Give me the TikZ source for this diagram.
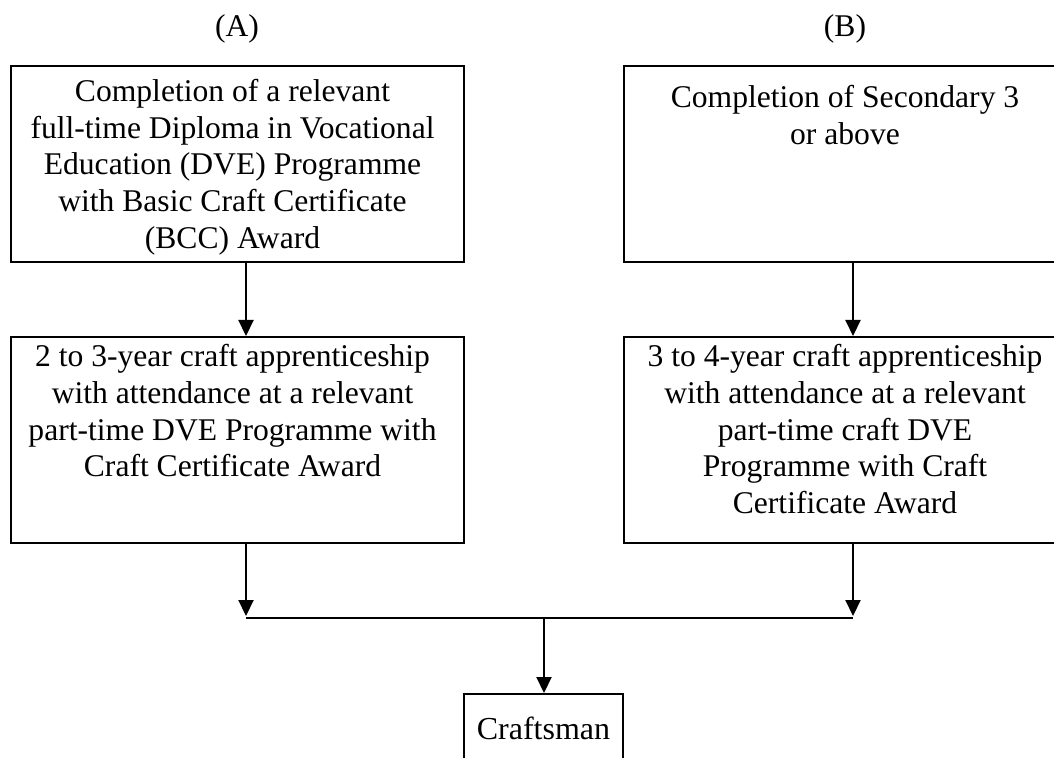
\documentclass[tikz,border=0pt]{standalone}
\usepackage{fontspec}
\setmainfont{Liberation Serif}
\usetikzlibrary{arrows.meta}
% centred lines in a column of width #1, followed by 5pt of room on the right
\newcommand{\boxlines}[2]{\parbox[t]{#1}{\centering #2}\hspace*{5pt}}
\begin{document}
\begin{tikzpicture}[x=0.5pt,y=-0.5pt,
  txt/.style={font=\fontsize{15.8}{18.3}\selectfont},
  flow/.style={txt, draw, line width=1pt, inner sep=0pt, anchor=base},
  heading/.style={txt, anchor=base, inner sep=0pt},
  link/.style={line width=0.65pt, -{Triangle[length=8pt,width=7.6pt]}}]
  \useasboundingbox (0,0) rectangle (1054,758);
  \clip (0,0) rectangle (1054,758);

  % column headings
  \node[heading] (hA) at (237,37) {(A)};
  \node[heading] (hB) at (845,37) {(B)};

  % entry requirements
  \node[flow, text height=17.85pt, text depth=80.15pt] (A1) at (237.5,101.7)
    {\boxlines{221.5pt}{Completion of a relevant\\ full-time Diploma in Vocational\\ Education (DVE) Programme\\ with Basic Craft Certificate\\ (BCC) Award}};
  \node[flow, text height=21pt, text depth=77pt] (B1) at (850,108)
    {\boxlines{221pt}{Completion of Secondary 3\\ or above}};

  % apprenticeships
  \node[flow, text height=15pt, text depth=88pt] (A2) at (237.5,367)
    {\boxlines{221.5pt}{2 to 3-year craft apprenticeship\\ with attendance at a relevant\\ part-time DVE Programme with\\ Craft Certificate Award}};
  \node[flow, text height=15pt, text depth=88pt] (B2) at (850,367)
    {\boxlines{221pt}{3 to 4-year craft apprenticeship\\ with attendance at a relevant\\ part-time craft DVE\\ Programme with Craft\\ Certificate Award}};

  % outcome
  \node[flow, font=\fontsize{16}{18.3}\selectfont, align=center, text width=79.5pt, text height=22.5pt, text depth=11.5pt] (Cr) at (543.5,739)
    {Craftsman};

  % routing points
  \coordinate (colA) at (246,0);
  \coordinate (colB) at (853,0);
  \coordinate (jl) at (246,618);
  \coordinate (jr) at (853,618);
  \coordinate (jc) at (544,618);

  % connectors
  \draw[link] (A1.south -| colA) -- (A2.north -| colA);
  \draw[link] (B1.south -| colB) -- (B2.north -| colB);
  \draw[link, shorten >=1pt] (A2.south -| colA) -- (jl);
  \draw[link, shorten >=1pt] (B2.south -| colB) -- (jr);
  \draw[line width=1pt] (jl) -- (jr);
  \draw[link] (jc) -- (Cr.north -| jc);
\end{tikzpicture}
\end{document}
